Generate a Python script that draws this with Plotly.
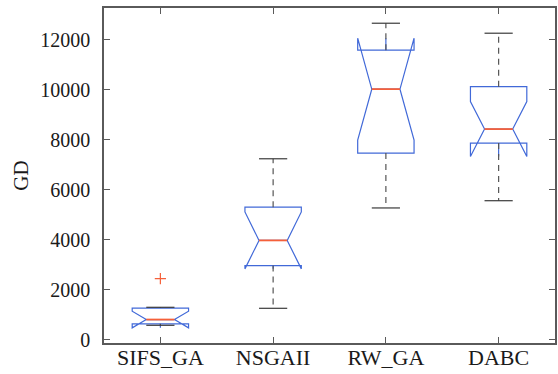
import plotly.graph_objects as go

# ---- data ----
categories = ["SIFS_GA", "NSGAII", "RW_GA", "DABC"]
lower_whisker = [570, 1250, 5270, 5560]
q1 = [630, 2960, 7470, 7870]
median = [800, 3970, 10030, 8430]
q3 = [1260, 5300, 11590, 10130]
upper_whisker = [1290, 7240, 12670, 12270]
notch_span = [333, 1140, 2040, 1100]
outlier_cat = ["SIFS_GA"]
outlier_val = [2440]
y_ticks = [0, 2000, 4000, 6000, 8000, 10000, 12000]

# ---- styling ----
BLUE = "#4169d8"
RED = "#f5603a"
WHISK = "#555555"
CAP = "#3a3a3a"
AXIS = "#5a5a5a"
FONT = "Liberation Serif, Times New Roman, serif"
BOX_W = 0.5
NOTCH_W = 0.25
CAP_HALF = 0.125

pos = list(range(len(categories)))
med_half = BOX_W / 2 * (1 - 2 * NOTCH_W)

fig = go.Figure()

fig.add_trace(go.Box(
    x=pos, q1=q1, median=median, q3=q3,
    lowerfence=q1, upperfence=q3,
    notched=True, notchspan=notch_span, notchwidth=NOTCH_W,
    width=BOX_W, whiskerwidth=0,
    line=dict(color=BLUE, width=1.2),
    fillcolor="rgba(0,0,0,0)",
    boxpoints=False, showlegend=False, hoverinfo="skip",
))

# whiskers (dashed)
wx, wy = [], []
for p, a, b, c, d in zip(pos, q3, upper_whisker, q1, lower_whisker):
    wx += [p, p, None, p, p, None]
    wy += [a, b, None, c, d, None]
fig.add_trace(go.Scatter(x=wx, y=wy, mode="lines",
                         line=dict(color=WHISK, width=1.2, dash="6px,5px"),
                         showlegend=False, hoverinfo="skip"))

# whisker caps
cx, cy = [], []
for p, b, d in zip(pos, upper_whisker, lower_whisker):
    cx += [p - CAP_HALF, p + CAP_HALF, None, p - CAP_HALF, p + CAP_HALF, None]
    cy += [b, b, None, d, d, None]
fig.add_trace(go.Scatter(x=cx, y=cy, mode="lines",
                         line=dict(color=CAP, width=1.2),
                         showlegend=False, hoverinfo="skip"))

# medians (red, drawn over the box's own median line)
mx, my = [], []
for p, m in zip(pos, median):
    mx += [p - med_half, p + med_half, None]
    my += [m, m, None]
fig.add_trace(go.Scatter(x=mx, y=my, mode="lines",
                         line=dict(color=RED, width=1.8),
                         showlegend=False, hoverinfo="skip"))

# outliers
fig.add_trace(go.Scatter(
    x=[categories.index(c) for c in outlier_cat], y=outlier_val, mode="markers",
    marker=dict(symbol="cross-thin", size=8, line=dict(color=RED, width=1.2)),
    showlegend=False, hoverinfo="skip"))

fig.update_layout(
    width=558, height=374,
    margin=dict(l=104, r=1, t=8, b=31),
    paper_bgcolor="white", plot_bgcolor="white",
    font=dict(family=FONT, size=20, color="#1a1a1a"),
)
fig.update_xaxes(
    range=[-0.5, 3.5], tickvals=pos, ticktext=categories,
    showline=True, linecolor=AXIS, linewidth=1.5, mirror="ticks",
    ticks="inside", ticklen=6, tickcolor=AXIS, tickwidth=1.2,
    showgrid=False, zeroline=False, ticklabelstandoff=-6,
    tickfont=dict(family=FONT, size=22, color="#1a1a1a"),
)
fig.update_yaxes(
    range=[-140, 13280], tickvals=y_ticks, tickformat="d",
    showline=True, linecolor=AXIS, linewidth=1.5, mirror="ticks",
    ticks="inside", ticklen=6, tickcolor=AXIS, tickwidth=1.2,
    showgrid=False, zeroline=False, ticklabelstandoff=8,
    tickfont=dict(family=FONT, size=20, color="#1a1a1a"),
    title=dict(text="GD", standoff=6,
               font=dict(family=FONT, size=21, color="#1a1a1a")),
)

fig.write_html(
    "out.html",
    config={"displayModeBar": False},
    post_script="document.body.style.margin='0';document.body.style.padding='0';",
)
